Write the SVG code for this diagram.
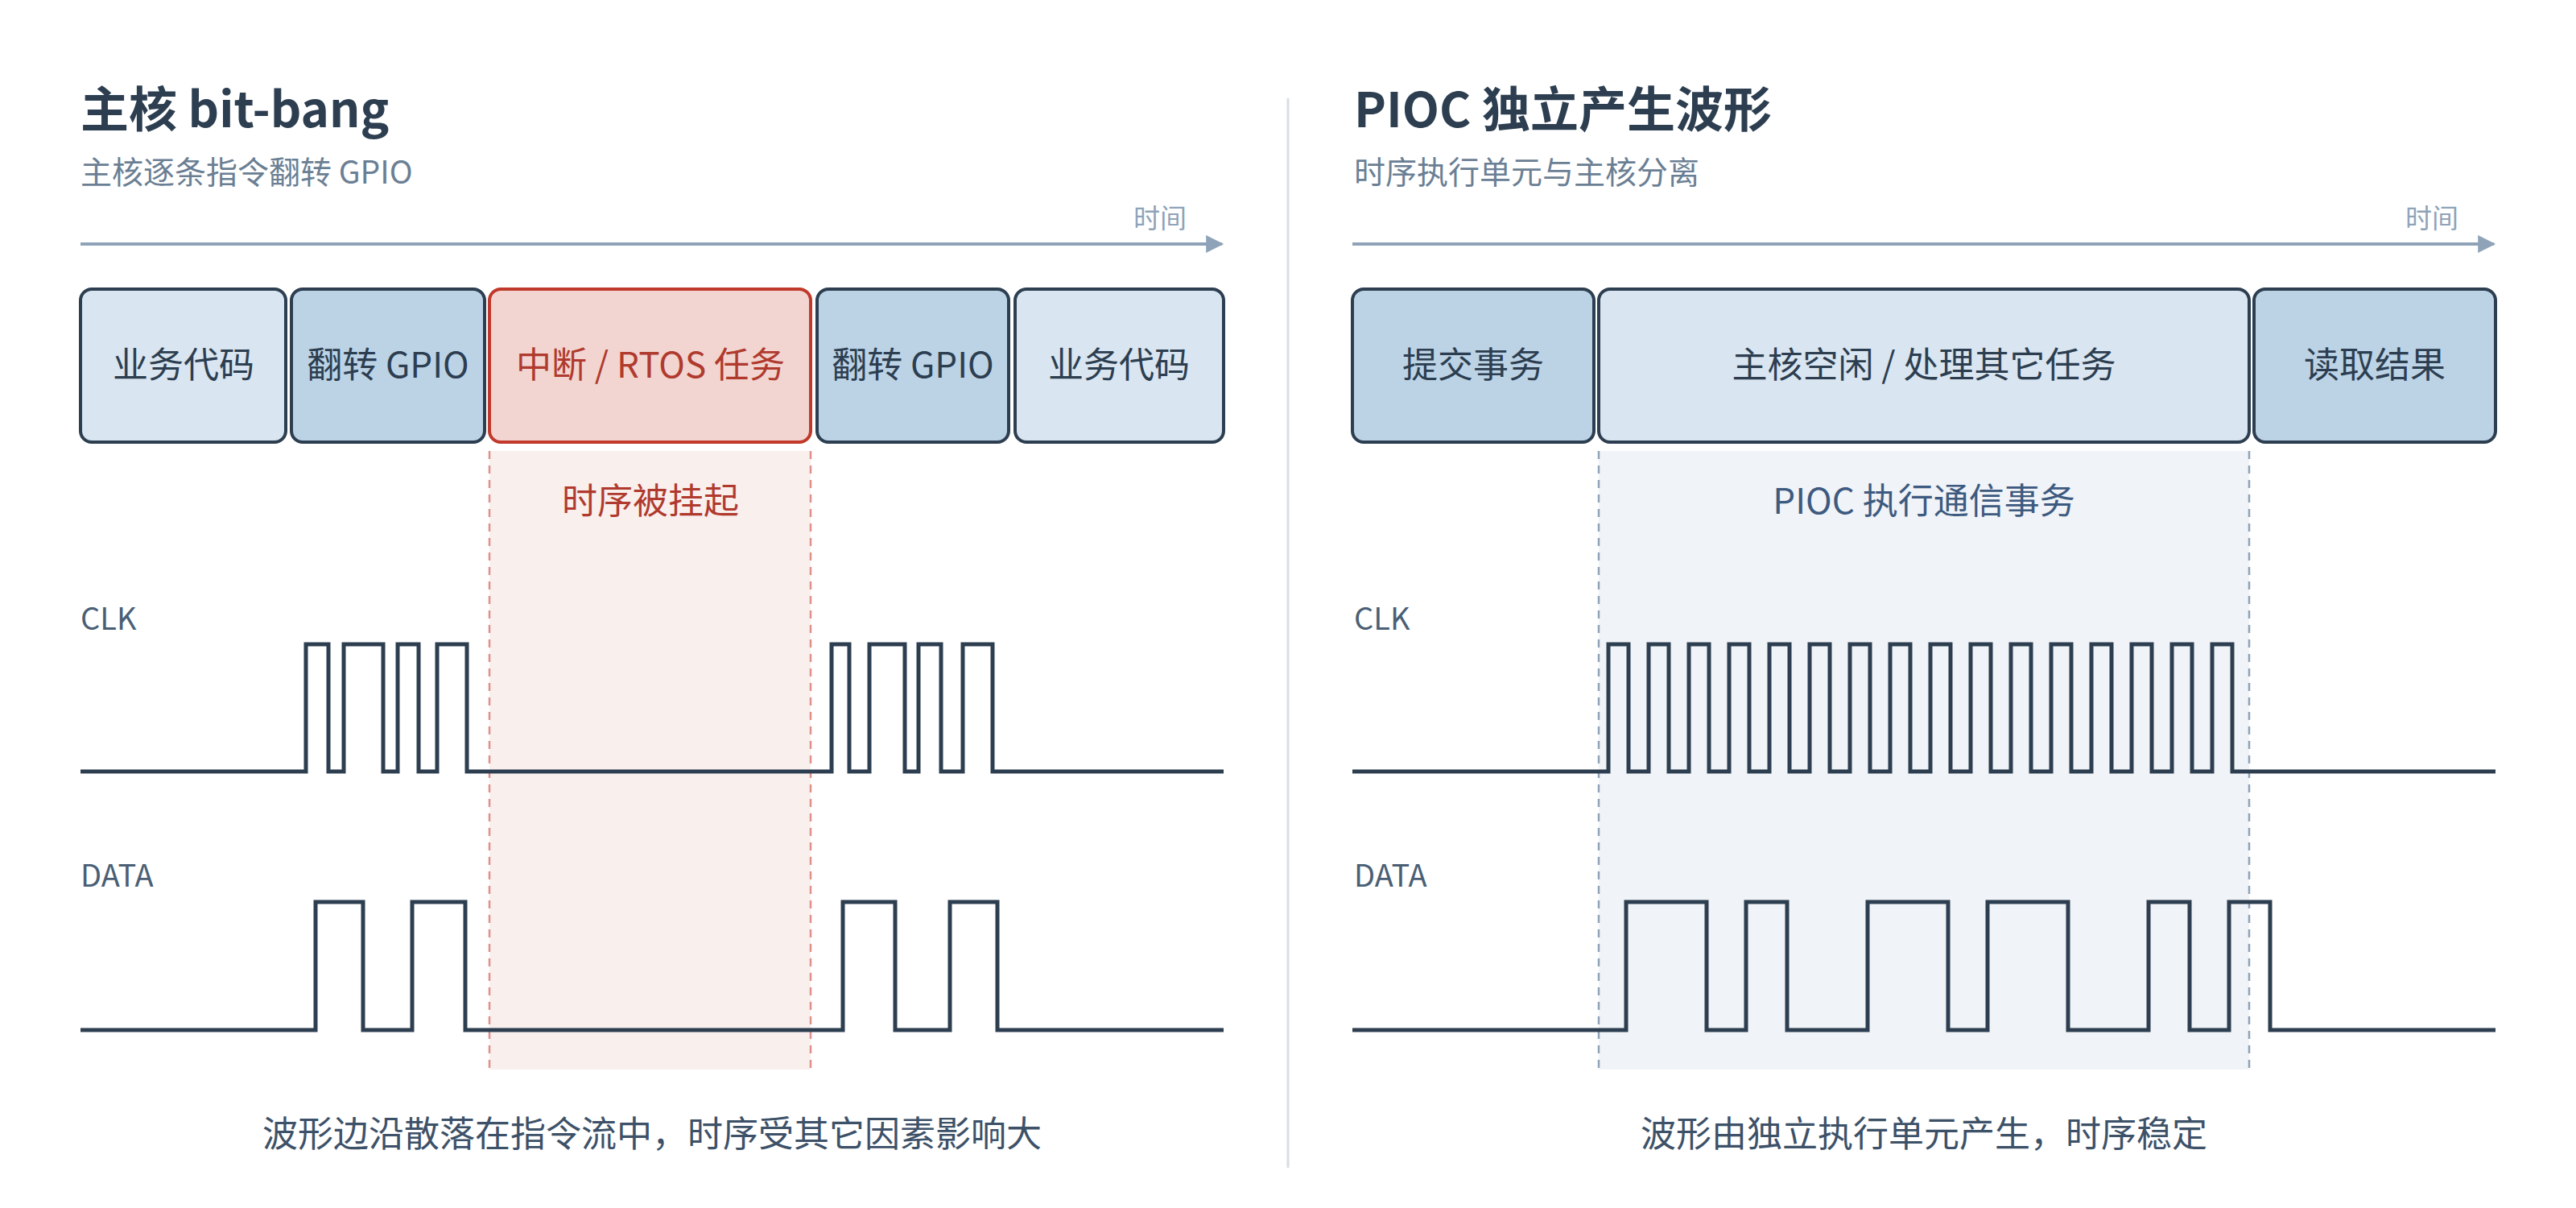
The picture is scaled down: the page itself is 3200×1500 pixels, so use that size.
<svg xmlns="http://www.w3.org/2000/svg" width="3200" height="1500" viewBox="0 0 3200 1500">
<defs>
<style>
text{font-family:"Noto Sans CJK SC","Noto Sans",sans-serif}
.title{font-size:60px;font-weight:700;fill:#2c3e50}
.sub{font-size:39px;fill:#6b7f94}
.time{font-size:33px;fill:#8fa3b8;text-anchor:end}
.axis{stroke:#8fa3b8;stroke-width:4;fill:none}
.box{stroke:#2c3e50;stroke-width:4}
.b1{fill:#d9e5f0}.b2{fill:#bcd3e6}
.bred{fill:#f2d5d0;stroke:#c0392b;stroke-width:4}
.lbl{font-size:44px;fill:#2c3e50;text-anchor:middle}
.red{fill:#b03a2e}
.sig{font-size:38px;fill:#4a5f75}
.wave{stroke:#2c3e50;stroke-width:5;fill:none;stroke-linejoin:miter}
.cap{font-size:44px;fill:#3d5168;text-anchor:middle}
</style>
<marker id="arr" viewBox="0 0 10 10" refX="9" refY="5" markerWidth="26" markerHeight="22" orient="auto" markerUnits="userSpaceOnUse"><path d="M0,0 L10,5 L0,10z" fill="#8fa3b8"/></marker>
</defs>
<line x1="1600" y1="122" x2="1600" y2="1450" stroke="#d5dde5" stroke-width="3"/>
<g id="left">
<text class="title" x="100" y="158">主核 bit-bang</text>
<text class="sub" x="100" y="228">主核逐条指令翻转 GPIO</text>
<text class="time" x="1474" y="283">时间</text>
<line class="axis" x1="100" y1="303" x2="1518" y2="303" marker-end="url(#arr)"/>
<rect x="608" y="560" width="399" height="768" fill="#f9efed"/>
<line x1="608" y1="560" x2="608" y2="1328" stroke="#e0908a" stroke-width="2.5" stroke-dasharray="10,8"/>
<line x1="1007" y1="560" x2="1007" y2="1328" stroke="#e0908a" stroke-width="2.5" stroke-dasharray="10,8"/>
<g id="l1"><rect class="box b1" x="100" y="359" width="255" height="190" rx="14"/><text class="lbl" x="228" y="469">业务代码</text></g>
<g id="l2"><rect class="box b2" x="362" y="359" width="240" height="190" rx="14"/><text class="lbl" x="482" y="469">翻转 GPIO</text></g>
<g id="l3"><rect class="bred" x="608" y="359" width="399" height="190" rx="14"/><text class="lbl red" x="808" y="469">中断 / RTOS 任务</text></g>
<g id="l4"><rect class="box b2" x="1015" y="359" width="238" height="190" rx="14"/><text class="lbl" x="1134" y="469">翻转 GPIO</text></g>
<g id="l5"><rect class="box b1" x="1261" y="359" width="259" height="190" rx="14"/><text class="lbl" x="1390" y="469">业务代码</text></g>
<text class="lbl red" x="808" y="638">时序被挂起</text>
<text class="sig" x="100" y="782">CLK</text>
<text class="sig" x="100" y="1101">DATA</text>
<path class="wave" d="M100,958 H380 V800 H408 V958 H427 V800 H476 V958 H494 V800 H520 V958 H543 V800 H580 V958 H1033 V800 H1055 V958 H1080 V800 H1124 V958 H1141 V800 H1169 V958 H1196 V800 H1233 V958 H1520"/>
<path class="wave" d="M100,1279 H392 V1120 H451 V1279 H512 V1120 H578 V1279 H1047 V1120 H1112 V1279 H1180 V1120 H1239 V1279 H1520"/>
<text class="cap" x="810" y="1424">波形边沿散落在指令流中，时序受其它因素影响大</text>
</g>
<g id="right">
<text class="title" x="1682" y="158">PIOC 独立产生波形</text>
<text class="sub" x="1682" y="228">时序执行单元与主核分离</text>
<text class="time" x="3054" y="283">时间</text>
<line class="axis" x1="1680" y1="303" x2="3098" y2="303" marker-end="url(#arr)"/>
<rect x="1986" y="560" width="808" height="768" fill="#f0f3f7"/>
<line x1="1986" y1="560" x2="1986" y2="1328" stroke="#8fa3b8" stroke-width="2.5" stroke-dasharray="10,8"/>
<line x1="2794" y1="560" x2="2794" y2="1328" stroke="#8fa3b8" stroke-width="2.5" stroke-dasharray="10,8"/>
<g id="r1"><rect class="box b2" x="1680" y="359" width="300" height="190" rx="14"/><text class="lbl" x="1830" y="469">提交事务</text></g>
<g id="r2"><rect class="box b1" x="1986" y="359" width="808" height="190" rx="14"/><text class="lbl" x="2390" y="469">主核空闲 / 处理其它任务</text></g>
<g id="r3"><rect class="box b2" x="2800" y="359" width="300" height="190" rx="14"/><text class="lbl" x="2950" y="469">读取结果</text></g>
<text class="lbl" x="2390" y="638" style="fill:#3d5a80">PIOC 执行通信事务</text>
<text class="sig" x="1682" y="782">CLK</text>
<text class="sig" x="1682" y="1101">DATA</text>
<path class="wave" d="M1680,958 H1998 V800 H2023 V958 H2048 V800 H2073 V958 H2098 V800 H2123 V958 H2148 V800 H2173 V958 H2198 V800 H2223 V958 H2248 V800 H2273 V958 H2298 V800 H2323 V958 H2348 V800 H2373 V958 H2398 V800 H2423 V958 H2448 V800 H2473 V958 H2498 V800 H2523 V958 H2548 V800 H2573 V958 H2598 V800 H2623 V958 H2648 V800 H2673 V958 H2698 V800 H2723 V958 H2748 V800 H2773 V958 H3100"/>
<path class="wave" d="M1680,1279 H2020 V1120 H2120 V1279 H2169 V1120 H2220 V1279 H2320 V1120 H2420 V1279 H2469 V1120 H2569 V1279 H2669 V1120 H2720 V1279 H2769 V1120 H2820 V1279 H3100"/>
<text class="cap" x="2390" y="1424">波形由独立执行单元产生，时序稳定</text>
</g>
</svg>
